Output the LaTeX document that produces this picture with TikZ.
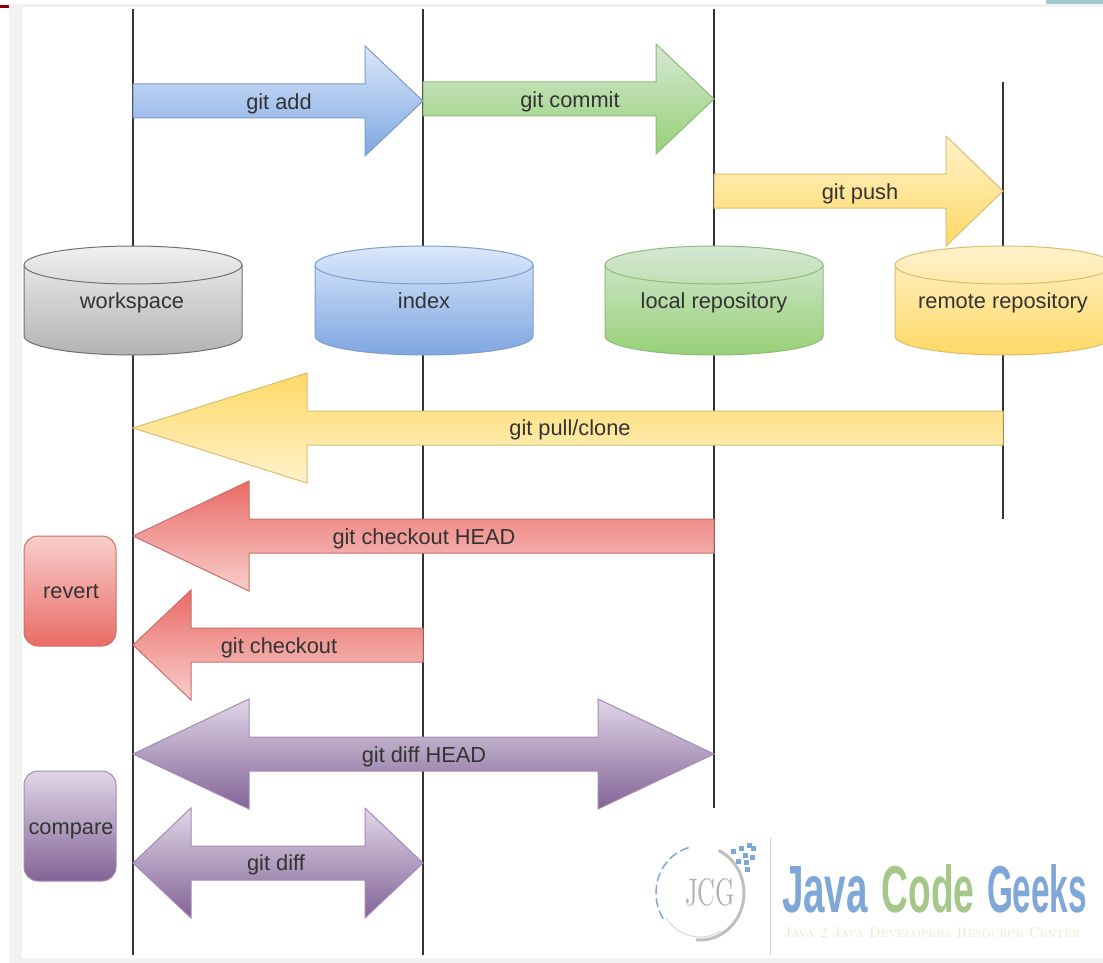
\documentclass[tikz,border=0pt]{standalone}
\usepackage{fontspec}
\setsansfont{Liberation Sans}
\definecolor{inkline}{HTML}{333333}
\definecolor{framegray}{HTML}{F2F2F2}
\definecolor{blueedge}{HTML}{7F9CC8}
\definecolor{greenedge}{HTML}{8FBB78}
\definecolor{yellowedge}{HTML}{D9BE6C}
\definecolor{grayedge}{HTML}{707070}
\definecolor{rededge}{HTML}{C8706A}
\definecolor{purpleedge}{HTML}{A58BB4}
\definecolor{logoblue}{HTML}{7FA8D8}
\definecolor{logogreen}{HTML}{A6C78A}
\definecolor{logotagc}{HTML}{E8E9CF}
\tikzset{
    lifeline/.style={draw=inkline, line width=1.5pt},
    lab/.style={text=inkline, font=\sffamily\fontsize{21.8}{25}\selectfont, inner sep=0pt, yshift=-2pt},
    bluebox/.style={draw=blueedge, line width=1pt, top color={rgb,255:red,218;green,232;blue,252}, bottom color={rgb,255:red,126;green,166;blue,224}},
    greenbox/.style={draw=greenedge, line width=1pt, top color={rgb,255:red,213;green,232;blue,212}, bottom color={rgb,255:red,151;green,208;blue,119}},
    yellowbox/.style={draw=yellowedge, line width=1pt, top color={rgb,255:red,255;green,242;blue,204}, bottom color={rgb,255:red,255;green,217;blue,102}},
    yellowflip/.style={draw=yellowedge, line width=1pt, top color={rgb,255:red,255;green,217;blue,102}, bottom color={rgb,255:red,255;green,242;blue,204}},
    graybox/.style={draw=grayedge, line width=1pt, top color={rgb,255:red,240;green,240;blue,240}, bottom color={rgb,255:red,179;green,179;blue,179}},
    redbox/.style={draw=rededge, line width=1pt, top color={rgb,255:red,248;green,206;blue,204}, bottom color={rgb,255:red,234;green,107;blue,102}},
    redflip/.style={draw=rededge, line width=1pt, top color={rgb,255:red,234;green,107;blue,102}, bottom color={rgb,255:red,248;green,206;blue,204}},
    purplebox/.style={draw=purpleedge, line width=1pt, top color={rgb,255:red,225;green,213;blue,231}, bottom color={rgb,255:red,130;green,100;blue,150}},
}
\newcommand{\arrowright}[5]{% tail, head base, tip, mid y, style
    \path[#5] (#1,{#4-17}) -- (#2,{#4-17}) -- (#2,{#4-55}) -- (#3,#4) -- (#2,{#4+55}) -- (#2,{#4+17}) -- (#1,{#4+17}) -- cycle;
}
\newcommand{\arrowleft}[5]{% tip, head base, tail, mid y, style
    \path[#5] (#1,#4) -- (#2,{#4-55}) -- (#2,{#4-17}) -- (#3,{#4-17}) -- (#3,{#4+17}) -- (#2,{#4+17}) -- (#2,{#4+55}) -- cycle;
}
\newcommand{\arrowboth}[6]{% left tip, left base, right base, right tip, mid y, style
    \path[#6] (#1,#5) -- (#2,{#5-55}) -- (#2,{#5-17}) -- (#3,{#5-17}) -- (#3,{#5-55}) -- (#4,#5) -- (#3,{#5+55}) -- (#3,{#5+17}) -- (#2,{#5+17}) -- (#2,{#5+55}) -- cycle;
}
\newcommand{\dbcyl}[3]{% centre x, style, edge colour
    \path[#2] ({#1-109},265) -- ({#1-109},336) arc [start angle=180, end angle=360, x radius=109pt, y radius=19pt] -- ({#1+109},265) arc [start angle=0, end angle=180, x radius=109pt, y radius=19pt] -- cycle;
    \draw[#3, line width=1pt] ({#1-109},265) arc [start angle=180, end angle=360, x radius=109pt, y radius=19pt];
}
\begin{document}
\begin{tikzpicture}[x=1pt, y=-1pt]
    \clip (0,0) rectangle (1103,963);
    \fill[white] (0,0) rectangle (1103,963);
    % page frame of the screenshot
    \fill[framegray] (9,4) rectangle (1103,963);
    \fill[white] (22,7) rectangle (1103,958);
    \fill[red!55!black] (0,5) rectangle (9,8);
    \fill[teal!35!white!90!gray] (1046,0) rectangle (1103,4);

    % life lines
    \coordinate (worktop) at (133,9);
    \coordinate (workend) at (133,955);
    \coordinate (indextop) at (423,9);
    \coordinate (indexend) at (423,955);
    \coordinate (localtop) at (714,9);
    \coordinate (localend) at (714,808);
    \coordinate (remotetop) at (1003,82);
    \coordinate (remoteend) at (1003,519);
    \draw[lifeline] (worktop) -- (workend);
    \draw[lifeline] (indextop) -- (indexend);
    \draw[lifeline] (localtop) -- (localend);
    \draw[lifeline] (remotetop) -- (remoteend);

    % arrows
    \arrowright{133}{365}{423}{101}{bluebox}
    \arrowright{423}{656}{714}{99}{greenbox}
    \arrowright{714}{946}{1003}{191}{yellowbox}
    \arrowleft{133}{307}{1003}{428}{yellowflip}
    \arrowleft{133}{249}{714}{536}{redflip}
    \arrowleft{133}{191}{423}{645}{redflip}
    \arrowboth{133}{249}{598}{714}{754}{purplebox}
    \arrowboth{133}{191}{365}{423}{863}{purplebox}
    \node[lab] (gitadd) at (279,102) {git add};
    \node[lab] (gitcommit) at (570,100) {git commit};
    \node[lab] (gitpush) at (860,192) {git push};
    \node[lab] (gitpull) at (570,428) {git pull/clone};
    \node[lab] (gitcohead) at (424,537) {git checkout HEAD};
    \node[lab] (gitco) at (279,646) {git checkout};
    \node[lab] (gitdiffhead) at (424,755) {git diff HEAD};
    \node[lab] (gitdiff) at (276,863) {git diff};

    % stores
    \dbcyl{133}{graybox}{grayedge}
    \dbcyl{424}{bluebox}{blueedge}
    \dbcyl{714}{greenbox}{greenedge}
    \dbcyl{1004}{yellowbox}{yellowedge}
    \node[lab] (workspace) at (132,301) {workspace};
    \node[lab] (index) at (424,299) {index};
    \node[lab] (localrepo) at (714,301) {local repository};
    \node[lab] (remoterepo) at (1003,301) {remote repository};

    % side boxes
    \path[redbox, rounded corners=14pt] (24,536) rectangle (116,646);
    \path[purplebox, rounded corners=14pt] (24,771) rectangle (116,881);
    \node[lab] (revert) at (71,590) {revert};
    \node[lab] (compare) at (71,829) {compare};

    % logo
    \draw[black!18, line width=1pt] (770,838) -- (770,955);
    \draw[logoblue, line width=1.5pt, dash pattern=on 9pt off 4pt] (700,893) ++(105:44pt and 47pt) arc [start angle=105, end angle=215, x radius=44pt, y radius=47pt];
    \draw[black!25, line width=3pt] (700,893) ++(65:44pt and 47pt) arc [start angle=65, end angle=-95, x radius=44pt, y radius=47pt];
    \draw[black!15, line width=1pt] (700,893) ++(215:41pt and 44pt) arc [start angle=215, end angle=300, x radius=41pt, y radius=44pt];
    \foreach \dotx/\doty in {733/851, 741/848, 749/845, 745/855, 753/848, 738/861, 746/862, 752/857, 747/869} {
        \fill[logoblue] (\dotx-2.5,\doty-2.5) rectangle (\dotx+2.5,\doty+2.5);
    }
    \node[inner sep=0pt, text=black!30] (logojcg) at (710,892) {\resizebox{50pt}{27pt}{\rmfamily JCG}};
    \node[inner sep=0pt, text=logoblue] (logojava) at (825,890) {\resizebox{86pt}{46pt}{\sffamily\bfseries Java}};
    \node[inner sep=0pt, text=logogreen] (logocode) at (928,889) {\resizebox{93pt}{48pt}{\sffamily\bfseries Code}};
    \node[inner sep=0pt, text=logoblue] (logogeeks) at (1037,889) {\resizebox{100pt}{48pt}{\sffamily\bfseries Geeks}};
    \node[inner sep=0pt, text=logotagc] (logotag) at (932,933) {\resizebox{297pt}{!}{\rmfamily\scshape Java 2 Java Developers Resource Center}};
\end{tikzpicture}
\end{document}
